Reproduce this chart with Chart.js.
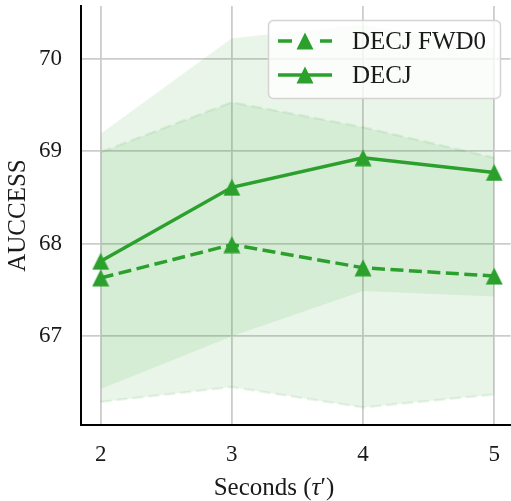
<!DOCTYPE html>
<html lang="en">
<head>
<meta charset="UTF-8">
<title>AUCCESS vs seconds</title>
<script src="https://cdn.jsdelivr.net/npm/chart.js"></script>
<style>
  html, body { margin: 0; padding: 0; background: #fff; }
</style>
</head>
<body>
<canvas id="chart" width="511" height="501"></canvas>
<script>
const seconds = [2, 3, 4, 5];
const xTicks = [2, 3, 4, 5];
const yTicks = [67, 68, 69, 70];
// x title in three pieces so the tau can be italic
const xTitleParts = ['Seconds (', 'τ', '′)'];
const yTitle = 'AUCCESS';

const decjMean = [67.81, 68.61, 68.93, 68.77];
const decjLow = [66.43, 67.00, 67.49, 67.43];
const decjHigh = [69.19, 70.22, 70.37, 70.11];

const fwd0Mean = [67.63, 67.99, 67.74, 67.65];
const fwd0Low = [66.29, 66.45, 66.23, 66.37];
const fwd0High = [68.99, 69.53, 69.26, 68.93];

const GREEN = '#2ca02c';
const BAND = 'rgba(44,160,44,0.1)';
const FONT = "'Liberation Serif', 'DejaVu Serif', serif";
const TEXT = '#1a1a1a';

function pts(ys) { return seconds.map((x, i) => ({ x: x, y: ys[i] })); }

// the plot box is fixed, no extra room for edge labels
function noPad(s) {
    s.paddingLeft = 0; s.paddingRight = 0;
    s.paddingTop = 0; s.paddingBottom = 0;
}

// triangle centred on its box, like matplotlib '^'
const tri = document.createElement('canvas');
tri.width = 18; tri.height = 18;
(function () {
    const c = tri.getContext('2d');
    c.fillStyle = GREEN;
    c.beginPath();
    c.moveTo(9, 0.5);
    c.lineTo(17.5, 17.5);
    c.lineTo(0.5, 17.5);
    c.closePath();
    c.fill();
})();

const boxLegend = {
    id: 'boxLegend',
    afterDraw(chart) {
        const ctx = chart.ctx;
        const items = chart.data.datasets.filter(d => d.inLegend);
        ctx.save();
        ctx.fillStyle = TEXT;
        ctx.textBaseline = 'middle';

        // x axis title, sits a bit left of the axes centre in the original
        const fonts = ['25px ' + FONT, 'italic 25px ' + FONT, '25px ' + FONT];
        const widths = xTitleParts.map((t, i) => { ctx.font = fonts[i]; return ctx.measureText(t).width; });
        let tx = 274 - widths.reduce((a, b) => a + b, 0) / 2;
        xTitleParts.forEach((t, i) => {
            ctx.font = fonts[i];
            ctx.fillText(t, tx, 488);
            tx += widths[i];
        });

        ctx.beginPath();
        ctx.roundRect(268.5, 20.5, 232, 78, 5);
        ctx.fillStyle = 'rgba(255,255,255,0.8)';
        ctx.fill();
        ctx.strokeStyle = '#d4d4d4';
        ctx.lineWidth = 1.5;
        ctx.stroke();
        items.forEach((d, i) => {
            const y = 41 + i * 34;
            ctx.strokeStyle = d.borderColor;
            ctx.lineWidth = d.borderWidth;
            ctx.setLineDash(d.borderDash ? [14, 28, 12] : []);
            ctx.beginPath();
            ctx.moveTo(278, y);
            ctx.lineTo(332, y);
            ctx.stroke();
            ctx.setLineDash([]);
            ctx.drawImage(tri, 305 - 9, y - 9);
            ctx.fillStyle = TEXT;
            ctx.font = '25px ' + FONT;
            ctx.fillText(d.label, 352, y + 1);
        });
        ctx.restore();
    }
};

const meanStyle = {
    borderColor: GREEN,
    borderWidth: 3.5,
    pointStyle: tri,
    pointRadius: 0.5,
    pointHoverRadius: 0.5,
    pointBorderWidth: 0,
    fill: false,
    inLegend: true
};
const bandStyle = {
    borderColor: BAND,
    backgroundColor: BAND,
    pointRadius: 0,
    pointHoverRadius: 0
};

new Chart(document.getElementById('chart'), {
    type: 'line',
    data: {
        datasets: [
            Object.assign({ label: 'DECJ FWD0', data: pts(fwd0Mean), borderDash: [13, 5.5] }, meanStyle),
            Object.assign({ label: 'DECJ', data: pts(decjMean) }, meanStyle),
            Object.assign({ data: pts(decjHigh), fill: '+1', borderWidth: 0 }, bandStyle),
            Object.assign({ data: pts(decjLow), fill: false, borderWidth: 0 }, bandStyle),
            Object.assign({ data: pts(fwd0High), fill: '+1', borderWidth: 2.5, borderDash: [11, 5] }, bandStyle),
            Object.assign({ data: pts(fwd0Low), fill: false, borderWidth: 2.5, borderDash: [11, 5] }, bandStyle)
        ]
    },
    options: {
        responsive: false,
        animation: false,
        devicePixelRatio: 1,
        layout: { padding: { top: 6, left: 0, right: 0, bottom: 0 } },
        plugins: {
            legend: { display: false },
            tooltip: { enabled: false }
        },
        scales: {
            x: {
                type: 'linear',
                min: 1.85,
                max: 5.124,
                afterBuildTicks: s => { s.ticks = xTicks.map(v => ({ value: v })); },
                afterFit: s => { s.height = 76; noPad(s); },
                grid: { color: '#cccccc', lineWidth: 1.8, drawTicks: false },
                border: { display: true, color: '#000', width: 2 },
                ticks: { padding: 16, color: TEXT, font: { family: FONT, size: 23 } }
            },
            y: {
                min: 66.04,
                max: 70.57,
                afterBuildTicks: s => { s.ticks = yTicks.map(v => ({ value: v })); },
                afterFit: s => { s.width = 81; noPad(s); },
                grid: { color: '#cccccc', lineWidth: 1.8, drawTicks: false },
                border: { display: true, color: '#000', width: 2 },
                ticks: { padding: 19, color: TEXT, font: { family: FONT, size: 23 } },
                title: {
                    display: true,
                    text: yTitle,
                    color: TEXT,
                    font: { family: FONT, size: 25 },
                    padding: { top: 3, bottom: 0 }
                }
            }
        }
    },
    plugins: [boxLegend]
});
</script>
</body>
</html>
